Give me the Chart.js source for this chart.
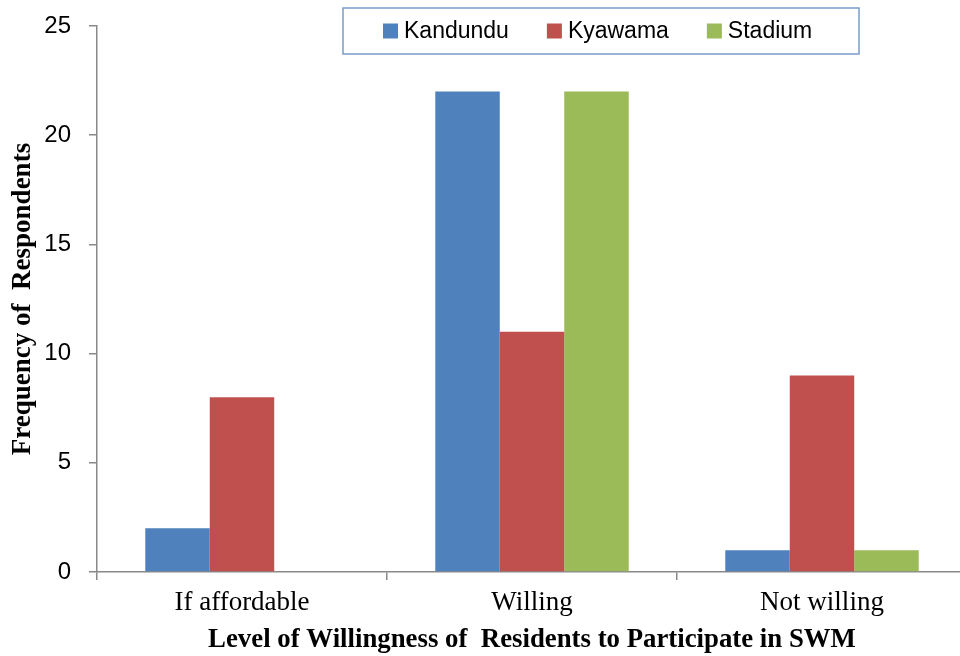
<!DOCTYPE html>
<html>
<head>
<meta charset="utf-8">
<title>Level of Willingness of Residents to Participate in SWM</title>
<script src="https://cdn.jsdelivr.net/npm/chart.js@4/dist/chart.umd.min.js"></script>
<style>
  html, body { margin: 0; padding: 0; background: #ffffff; overflow: hidden; }
  #wrap { width: 960px; height: 656px; overflow: hidden; }
  canvas { display: block; }
</style>
</head>
<body>
<div id="wrap"><canvas id="chart" width="967" height="656"></canvas></div>
<script>
// Responses per willingness level, by area
const categories = ['If affordable', 'Willing', 'Not willing'];
const kandundu = [2, 22, 1];
const kyawama = [8, 11, 9];
const stadium = [0, 22, 1];
const yTicks = [0, 5, 10, 15, 20, 25];

const seriesNames = ['Kandundu', 'Kyawama', 'Stadium'];
const seriesColors = ['#4F81BD', '#C0504D', '#9BBB59'];
const seriesValues = [kandundu, kyawama, stadium];

const axisColor = '#898989';
const serif = '"Liberation Serif", "Times New Roman", serif';
const sans = '"Liberation Sans", Arial, sans-serif';

// Boxed legend drawn over the top of the plot area
const boxedLegend = {
  id: 'boxedLegend',
  afterDraw(chart) {
    const ctx = chart.ctx;
    const box = { left: 343, top: 8, right: 859, bottom: 54 };
    ctx.save();
    ctx.fillStyle = '#ffffff';
    ctx.fillRect(box.left, box.top, box.right - box.left, box.bottom - box.top);
    ctx.strokeStyle = '#7A9CCB';
    ctx.lineWidth = 1.5;
    ctx.strokeRect(box.left, box.top, box.right - box.left, box.bottom - box.top);

    ctx.font = '23px ' + sans;
    ctx.textBaseline = 'middle';
    ctx.textAlign = 'left';
    const sq = 15, gapText = 6, gapItem = 38;
    const cy = (box.top + box.bottom) / 2;
    let x = box.left + 40;
    chart.data.datasets.forEach((d) => {
      ctx.fillStyle = d.backgroundColor;
      ctx.fillRect(x, cy - sq / 2, sq, sq);
      ctx.fillStyle = '#000000';
      ctx.fillText(d.label, x + sq + gapText, cy + 1);
      x += sq + gapText + ctx.measureText(d.label).width + gapItem;
    });
    ctx.restore();
  }
};

new Chart(document.getElementById('chart'), {
  type: 'bar',
  data: {
    labels: categories,
    datasets: seriesNames.map((name, i) => ({
      label: name,
      data: seriesValues[i],
      backgroundColor: seriesColors[i],
      borderWidth: 0,
      categoryPercentage: 0.667,
      barPercentage: 1.0
    }))
  },
  options: {
    responsive: false,
    animation: false,
    layout: { padding: { top: 26, right: 0, bottom: 0, left: 0 } },
    plugins: {
      legend: { display: false },
      tooltip: { enabled: false }
    },
    scales: {
      x: {
        grid: {
          display: true,
          offset: true,
          drawOnChartArea: false,
          drawTicks: true,
          tickLength: 8,
          color: axisColor,
          lineWidth: 1.5
        },
        border: { display: true, color: axisColor, width: 1.5 },
        ticks: {
          color: '#000000',
          padding: 7,
          font: { family: serif, size: 27 }
        },
        title: {
          display: true,
          text: 'Level of Willingness of  Residents to Participate in SWM',
          color: '#000000',
          padding: { top: 0, bottom: 0 },
          font: { family: serif, size: 26.8, weight: 'bold' }
        },
        afterFit(scale) {
          scale.height = 84;
          scale.paddingLeft = 0;
          scale.paddingRight = 0;
        }
      },
      y: {
        min: 0,
        max: 25,
        afterBuildTicks(scale) { scale.ticks = yTicks.map(v => ({ value: v })); },
        grid: {
          display: true,
          drawOnChartArea: false,
          drawTicks: true,
          tickLength: 8,
          color: axisColor,
          lineWidth: 1.5
        },
        border: { display: true, color: axisColor, width: 1.5 },
        ticks: {
          color: '#000000',
          padding: 18,
          font: { family: sans, size: 24 }
        },
        title: {
          display: true,
          text: 'Frequency of  Respondents',
          color: '#000000',
          padding: { top: 7, bottom: 0 },
          font: { family: serif, size: 27, weight: 'bold' }
        },
        afterFit(scale) {
          scale.width = 97;
          scale.paddingTop = 0;
          scale.paddingBottom = 0;
        }
      }
    }
  },
  plugins: [boxedLegend]
});
</script>
</body>
</html>
